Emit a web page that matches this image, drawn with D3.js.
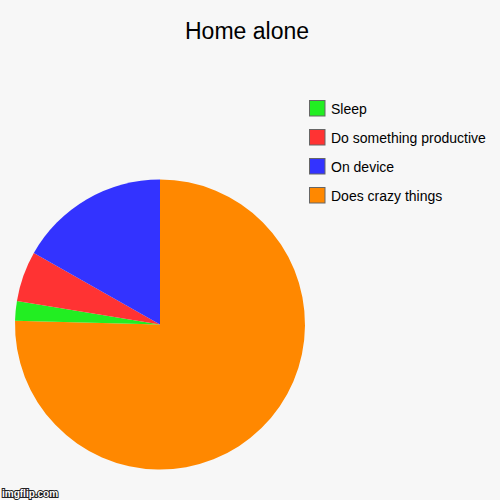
<!DOCTYPE html>
<html>
<head>
<meta charset="utf-8">
<script src="https://cdn.jsdelivr.net/npm/d3@7"></script>
<style>
  body { margin: 0; background: #f7f7f7; }
  svg { display: block; font-family: Arial, "Liberation Sans", sans-serif; }
</style>
</head>
<body>
<div id="chart"></div>
<script>
// chart data (clockwise from 12 o'clock)
var labels = ["Does crazy things", "Sleep", "Do something productive", "On device"];
var values = [75.4, 2.2, 5.6, 16.8];
var colors = ["#ff8800", "#22ee22", "#ff3333", "#3333ff"];
// legend order, top to bottom
var legendLabels = ["Sleep", "Do something productive", "On device", "Does crazy things"];
var title = "Home alone";

var width = 500, height = 500;

var svg = d3.select("#chart")
            .append("svg")
            .attr("width", width)
            .attr("height", height);

svg.append("rect")
   .attr("width", width)
   .attr("height", height)
   .attr("fill", "#f7f7f7");

// title
svg.append("text")
   .attr("x", 247)
   .attr("y", 38.5)
   .attr("text-anchor", "middle")
   .attr("font-size", "23px")
   .attr("fill", "#000")
   .text(title);

var data = labels.map(function(l, i) {
    return { label: l, value: values[i], color: colors[i] };
});

// pie
var pie = d3.pie()
            .sort(null)
            .value(d => d.value);

var arc = d3.arc()
            .innerRadius(0)
            .outerRadius(145);

var pieGroup = svg.append("g")
                  .attr("transform", "translate(160, 324.5)");

pieGroup.selectAll("path")
        .data(pie(data))
        .enter()
        .append("path")
        .attr("d", arc)
        .attr("fill", d => d.data.color);

// legend
var legendScale = d3.scaleBand()
                    .domain(legendLabels)
                    .range([100, 216]);

var legendData = legendLabels.map(function(l) {
    return data.find(d => d.label === l);
});

var legend = svg.append("g")
                .selectAll("g")
                .data(legendData)
                .enter()
                .append("g")
                .attr("transform", d => `translate(309, ${legendScale(d.label)})`);

legend.append("rect")
      .attr("x", 0.5)
      .attr("y", 0.5)
      .attr("width", 15.5)
      .attr("height", 15.5)
      .attr("fill", d => d.color)
      .attr("stroke", "#666")
      .attr("stroke-width", 1);

legend.append("text")
      .attr("x", 22)
      .attr("y", 14)
      .attr("font-size", "14px")
      .attr("fill", "#000")
      .text(d => d.label);

// watermark
svg.append("text")
   .attr("x", 2)
   .attr("y", 497)
   .attr("font-size", "10px")
   .attr("font-weight", "bold")
   .attr("fill", "#fff")
   .attr("stroke", "#222")
   .attr("stroke-width", 2)
   .attr("paint-order", "stroke")
   .text("imgflip.com");
</script>
</body>
</html>
